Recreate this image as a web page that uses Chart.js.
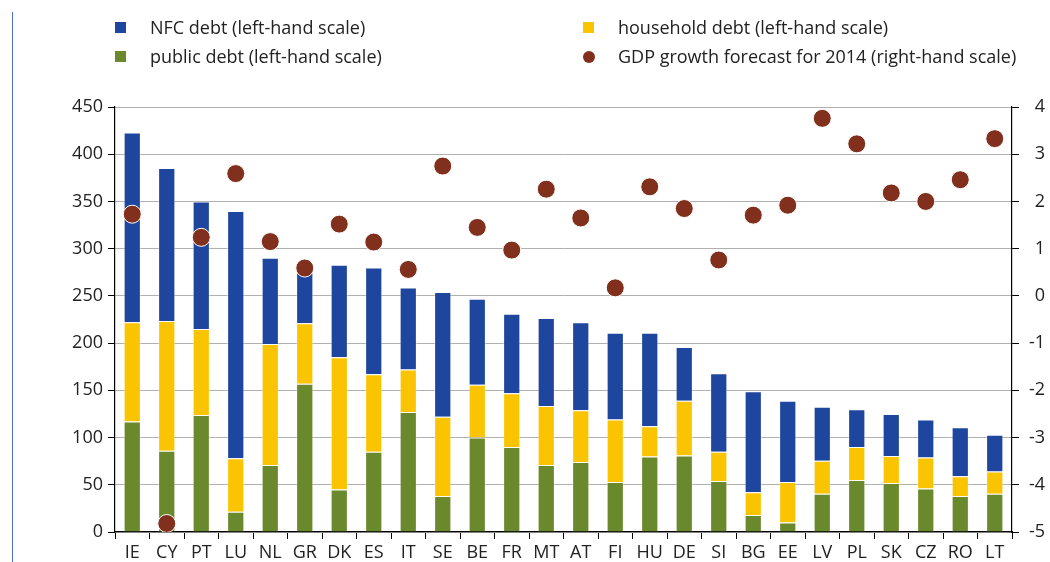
<!DOCTYPE html>
<html>
<head>
<meta charset="utf-8">
<script src="https://cdn.jsdelivr.net/npm/chart.js@4.4.0/dist/chart.umd.min.js"></script>
<style>
  html, body { margin: 0; padding: 0; background: #fff; }
  #wrap { position: relative; width: 1050px; height: 562px; overflow: hidden; font-family: 'Open Sans', sans-serif; }
  #frame { position: absolute; left: 12px; top: 12px; bottom: 0; width: 0; border-left: 1.5px solid #4a70c4; }
  .item { position: absolute; font-size: 18px; color: #222; white-space: nowrap; line-height: 22px; }
  .mark { position: absolute; }
</style>
</head>
<body>
<div id="wrap">
  <canvas id="debtChart"></canvas>
  <div id="frame"></div>
  <div id="legend"></div>
</div>
<script>
const countries = ['IE', 'CY', 'PT', 'LU', 'NL', 'GR', 'DK', 'ES', 'IT', 'SE', 'BE', 'FR', 'MT', 'AT', 'FI', 'HU', 'DE', 'SI', 'BG', 'EE', 'LV', 'PL', 'SK', 'CZ', 'RO', 'LT'];

// % of GDP, left-hand scale
const publicDebt = [117, 86, 124, 21.5, 71, 157, 45, 85, 127, 38, 100, 90, 71, 74, 53, 80, 81, 54, 18, 10, 40.5, 55, 52, 46, 38, 40.5];
const householdDebt = [105, 137.5, 91, 56.5, 128, 64, 140, 82, 45, 84, 56, 57, 62.5, 55, 66, 32, 58, 31, 24, 43, 35, 35, 28.5, 33, 21, 23.5];
const nfcDebt = [201, 162, 135, 262, 91.5, 57, 98, 113, 87, 132, 91, 84, 93, 93, 92, 99, 57, 83, 107, 86, 57, 40, 44.5, 40, 52, 39];

// right-hand scale
const gdpGrowth = [1.73, -4.82, 1.24, 2.59, 1.15, 0.59, 1.52, 1.14, 0.56, 2.75, 1.45, 0.97, 2.26, 1.65, 0.17, 2.31, 1.85, 0.76, 1.71, 1.92, 3.76, 3.22, 2.18, 2.0, 2.46, 3.33];

const leftTicks = { min: 0, max: 450, step: 50 };
const rightTicks = { min: -5, max: 4, step: 1 };

const BLUE = '#1e469e';
const YELLOW = '#fbc400';
const GREEN = '#6a892c';
const BROWN = '#80301c';
const tickFont = { family: "'Open Sans', sans-serif", size: 18 };

const barStyle = {
  type: 'bar',
  yAxisID: 'y',
  stack: 'debt',
  borderWidth: 1,
  borderColor: 'rgba(255,255,255,0.45)',
  barPercentage: 0.5,
  categoryPercentage: 1
};

const chart = new Chart(document.getElementById('debtChart'), {
  data: {
    labels: countries,
    datasets: [
      {
        type: 'line',
        label: 'GDP growth forecast for 2014 (right-hand scale)',
        data: gdpGrowth,
        yAxisID: 'y1',
        showLine: false,
        order: -1,
        pointRadius: 9,
        pointHoverRadius: 9,
        pointBackgroundColor: BROWN,
        pointBorderColor: '#fff',
        pointBorderWidth: 1,
        backgroundColor: BROWN,
        borderColor: BROWN
      },
      { ...barStyle, label: 'public debt (left-hand scale)', data: publicDebt, backgroundColor: GREEN },
      { ...barStyle, label: 'household debt (left-hand scale)', data: householdDebt, backgroundColor: YELLOW },
      { ...barStyle, label: 'NFC debt (left-hand scale)', data: nfcDebt, backgroundColor: BLUE }
    ]
  },
  options: {
    responsive: true,
    maintainAspectRatio: false,
    animation: false,
    layout: { padding: { top: 107, left: 0, right: 5, bottom: 0 } },
    plugins: {
      legend: { display: false },
      tooltip: { enabled: false }
    },
    scales: {
      x: {
        stacked: true,
        offset: true,
        grid: { offset: true, drawOnChartArea: false, drawTicks: true, tickLength: 7, tickColor: '#000' },
        border: { color: '#000', width: 1.2 },
        ticks: { color: '#222', font: tickFont, autoSkip: false, maxRotation: 0, padding: 3 },
        afterFit: scale => { scale.height = 30; }
      },
      y: {
        stacked: true,
        position: 'left',
        min: leftTicks.min,
        max: leftTicks.max,
        ticks: { stepSize: leftTicks.step, color: '#222', font: tickFont, padding: 5 },
        grid: { color: '#b0b0b0', lineWidth: 1, tickLength: 7, tickColor: '#000' },
        border: { color: '#000', width: 1.2 },
        afterFit: scale => { scale.width = 115; }
      },
      y1: {
        position: 'right',
        min: rightTicks.min,
        max: rightTicks.max,
        ticks: { stepSize: rightTicks.step, color: '#222', font: tickFont, padding: 3, crossAlign: 'far' },
        grid: { drawOnChartArea: false, tickLength: 7, tickColor: '#000' },
        border: { color: '#000', width: 1.2 },
        afterFit: scale => { scale.width = 33; }
      }
    }
  }
});

// legend: two columns, two rows
const legendSlots = [
  { label: 'NFC debt (left-hand scale)', col: 0, row: 0 },
  { label: 'household debt (left-hand scale)', col: 1, row: 0 },
  { label: 'public debt (left-hand scale)', col: 0, row: 1 },
  { label: 'GDP growth forecast for 2014 (right-hand scale)', col: 1, row: 1 }
];
const colX = [115, 583];
const rowY = [28, 57];

const legendDiv = document.getElementById('legend');
legendSlots.forEach(slot => {
  const ds = chart.data.datasets.find(d => d.label === slot.label);
  const x = colX[slot.col];
  const y = rowY[slot.row];

  const mark = document.createElement('div');
  mark.className = 'mark';
  if (ds.type === 'line') {
    mark.style.cssText = `left:${x}px;top:${y - 6}px;width:12px;height:12px;border-radius:50%;background:${ds.pointBackgroundColor};`;
  } else {
    mark.style.cssText = `left:${x}px;top:${y - 6}px;width:11px;height:11px;background:${ds.backgroundColor};`;
  }

  const text = document.createElement('div');
  text.className = 'item';
  text.style.left = `${x + 35}px`;
  text.style.top = `${y - 12}px`;
  text.innerText = ds.label;

  legendDiv.append(mark, text);
});
</script>
</body>
</html>
